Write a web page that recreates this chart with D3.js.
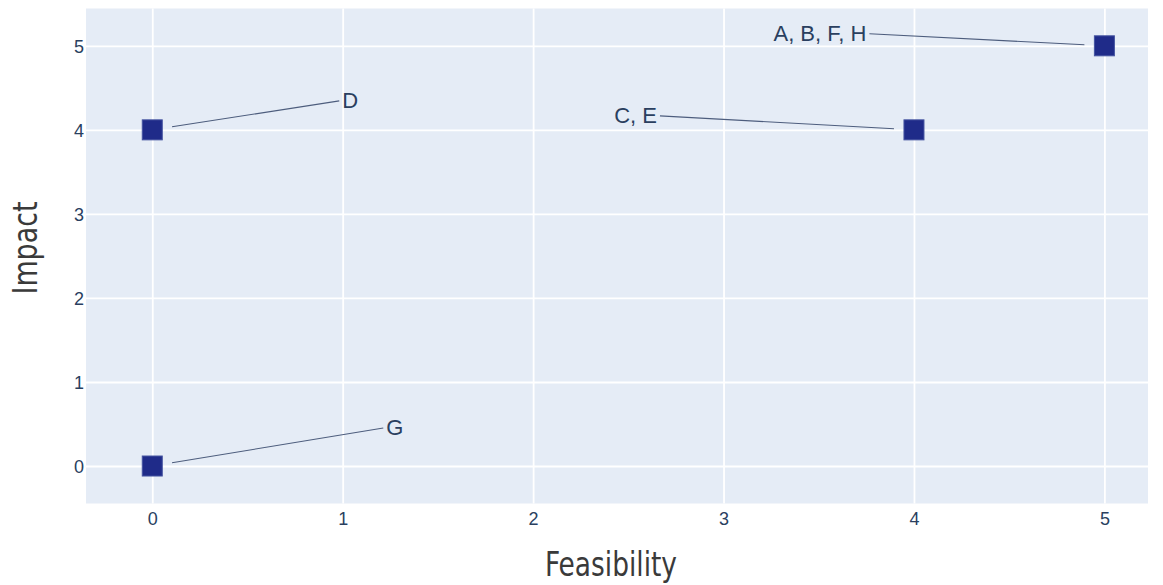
<!DOCTYPE html>
<html>
<head>
<meta charset="utf-8">
<script src="https://cdn.jsdelivr.net/npm/d3@7"></script>
<style>
html,body{margin:0;padding:0;background:#fff;}
svg{display:block;}
</style>
</head>
<body>
<svg id="chart" width="1163" height="585"></svg>
<script>
// ---- data ----
const labels = ["A, B, F, H", "C, E", "D", "G"];
const feasibility = [5, 4, 0, 0];
const impact = [5, 4, 4, 0];
const xTicks = [0, 1, 2, 3, 4, 5];
const yTicks = [0, 1, 2, 3, 4, 5];
const xTitle = "Feasibility";
const yTitle = "Impact";
// label offsets (pixels, relative to point) and anchoring
const labelDx = [-238, -257, 190, 234];
const labelDy = [-13, -15, -30, -39];
const labelAnchor = ["end", "end", "start", "start"];

// ---- layout ----
const L = 86, R = 1148, T = 8.5, B = 503.5;
const svg = d3.select("#chart");

const x = d3.scaleLinear().domain([-0.348, 5.229]).range([L, R]);
const y = d3.scaleLinear().domain([-0.446, 5.444]).range([B, T]);

svg.append("rect").attr("x", L).attr("y", T).attr("width", R - L).attr("height", B - T).attr("fill", "#e5ecf6");

// grid
const xAxis = d3.axisBottom(x).tickValues(xTicks).tickSize(-(B - T)).tickFormat(d3.format("d"));
const yAxis = d3.axisLeft(y).tickValues(yTicks).tickSize(-(R - L)).tickFormat(d3.format("d"));

const gx = svg.append("g").attr("transform", `translate(0,${B})`).call(xAxis);
const gy = svg.append("g").attr("transform", `translate(${L},0)`).call(yAxis);
[gx, gy].forEach(g => {
  g.select(".domain").remove();
  g.selectAll(".tick line").attr("stroke", "#ffffff").attr("stroke-width", 1.8);
  g.selectAll(".tick text").attr("fill", "#2a3f5f").attr("font-family", "'Liberation Sans', Arial, sans-serif").attr("font-size", 18);
});
gx.selectAll(".tick text").attr("y", 9).attr("dy", "0.71em");
gy.selectAll(".tick text").attr("x", -2).attr("dy", "0.35em");

// axis titles
const titleFont = "'Liberation Sans Narrow', 'Arial Narrow', 'DejaVu Sans Condensed', sans-serif";
svg.append("text")
  .attr("x", (L + R) / 2 - 6).attr("y", 576)
  .attr("text-anchor", "middle")
  .attr("font-family", titleFont)
  .attr("font-size", 34).attr("fill", "#3a3a3a")
  .attr("textLength", 132).attr("lengthAdjust", "spacingAndGlyphs")
  .text(xTitle);
svg.append("text")
  .attr("transform", `translate(37,248) rotate(-90)`)
  .attr("text-anchor", "middle")
  .attr("font-family", titleFont)
  .attr("font-size", 34).attr("fill", "#3a3a3a")
  .attr("textLength", 93).attr("lengthAdjust", "spacingAndGlyphs")
  .text(yTitle);

// annotations
const pts = labels.map((l, i) => ({label: l, px: x(feasibility[i]), py: y(impact[i]), dx: labelDx[i], dy: labelDy[i], anchor: labelAnchor[i]}));
const ann = svg.append("g");
pts.forEach(p => {
  const tx = p.px + p.dx, ty = p.py + p.dy;
  const lx = p.anchor === "end" ? tx + 3 : tx - 3;
  const ly = ty + 1;
  const vx = lx - p.px, vy = ly - p.py;
  const len = Math.hypot(vx, vy);
  const so = 20;
  ann.append("line")
    .attr("x1", lx).attr("y1", ly)
    .attr("x2", p.px + vx / len * so).attr("y2", p.py + vy / len * so)
    .attr("stroke", "#4d5d7d").attr("stroke-width", 1.1);
  ann.append("text")
    .attr("x", tx).attr("y", ty).attr("dy", "0.35em")
    .attr("text-anchor", p.anchor)
    .attr("font-family", "'Liberation Sans', Arial, sans-serif")
    .attr("font-size", 22).attr("fill", "#2a3f5f")
    .text(p.label);
});

// markers
const s = 20;
svg.append("g").selectAll("rect").data(pts).join("rect")
  .attr("x", d => d.px - s / 2).attr("y", d => d.py - s / 2)
  .attr("width", s).attr("height", s)
  .attr("fill", "#1f2b89").attr("stroke", "#4453a0").attr("stroke-width", 1);
</script>
</body>
</html>
